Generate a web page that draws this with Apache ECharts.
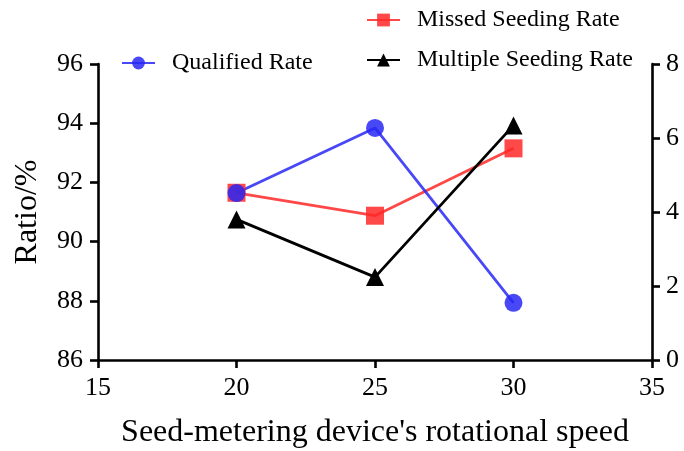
<!DOCTYPE html>
<html><head><meta charset="utf-8">
<script src="https://cdn.jsdelivr.net/npm/echarts@6/dist/echarts.min.js"></script>
<style>html,body{margin:0;padding:0;background:#fff}#c{width:684px;height:451px}</style>
</head><body><div id="c"></div>
<script>
const speeds = [20, 25, 30];
const qualifiedRate = [91.64, 93.84, 87.93];
const missedRate = [4.52, 3.90, 5.72];
const multipleRate = [3.80, 2.24, 6.34];
const leftTicks = [86, 96, 2];
const rightTicks = [0, 8, 2];
const xTicks = [15, 35, 5];

const font = '"Liberation Serif","Times New Roman",serif';
const chart = echarts.init(document.getElementById('c'), null, {renderer: 'canvas'});
const axisLine = {show: true, lineStyle: {color: '#000', width: 2.6}};
const axisTick = {show: true, length: 8, lineStyle: {color: '#000', width: 2.6}};
const legendText = {fontFamily: font, fontSize: 24, color: '#000', padding: [0, 0, 0, 12]};
chart.setOption({
  animation: false,
  grid: {left: 98, right: 32, top: 64, bottom: 91, outerBoundsMode: 'none', containLabel: false},
  legend: [
    {data: ['Qualified Rate'], left: 116, top: 46, itemWidth: 33, itemHeight: 16,
     textStyle: legendText},
    {data: ['Missed Seeding Rate', 'Multiple Seeding Rate'], orient: 'vertical', left: 361, top: 3,
     itemWidth: 33, itemHeight: 16, itemGap: 16,
     textStyle: legendText}
  ],
  xAxis: {
    type: 'value', min: xTicks[0], max: xTicks[1], interval: xTicks[2],
    name: "Seed-metering device's rotational speed", nameLocation: 'middle', nameGap: 57,
    nameTextStyle: {fontFamily: font, fontSize: 32, color: '#000'},
    axisLine: axisLine, axisTick: axisTick, splitLine: {show: false},
    axisLabel: {fontFamily: font, fontSize: 26, color: '#000', margin: 15}
  },
  yAxis: [
    {type: 'value', min: leftTicks[0], max: leftTicks[1], interval: leftTicks[2], position: 'left',
     name: 'Ratio/%', nameLocation: 'middle', nameGap: 54,
     nameTextStyle: {fontFamily: font, fontSize: 32, color: '#000'},
     axisLine: axisLine, axisTick: axisTick, splitLine: {show: false},
     axisLabel: {fontFamily: font, fontSize: 26, color: '#000', margin: 15}},
    {type: 'value', min: rightTicks[0], max: rightTicks[1], interval: rightTicks[2], position: 'right',
     axisLine: axisLine, axisTick: axisTick, splitLine: {show: false},
     axisLabel: {fontFamily: font, fontSize: 26, color: '#000', margin: 14}}
  ],
  series: [
    {name: 'Missed Seeding Rate', type: 'line', yAxisIndex: 1,
     data: speeds.map((s, i) => [s, missedRate[i]]),
     symbol: 'rect', symbolSize: 18,
     lineStyle: {color: 'rgba(255,40,40,0.85)', width: 2.8},
     itemStyle: {color: 'rgba(255,40,40,0.85)'}},
    {name: 'Qualified Rate', type: 'line', yAxisIndex: 0,
     data: speeds.map((s, i) => [s, qualifiedRate[i]]),
     symbol: 'circle', symbolSize: 18,
     lineStyle: {color: 'rgba(40,40,245,0.85)', width: 2.8},
     itemStyle: {color: 'rgba(40,40,245,0.85)'}},
    {name: 'Multiple Seeding Rate', type: 'line', yAxisIndex: 1,
     data: speeds.map((s, i) => [s, multipleRate[i]]),
     symbol: 'triangle', symbolSize: 18,
     lineStyle: {color: '#000', width: 2.8},
     itemStyle: {color: '#000'}}
  ]
});
</script></body></html>
